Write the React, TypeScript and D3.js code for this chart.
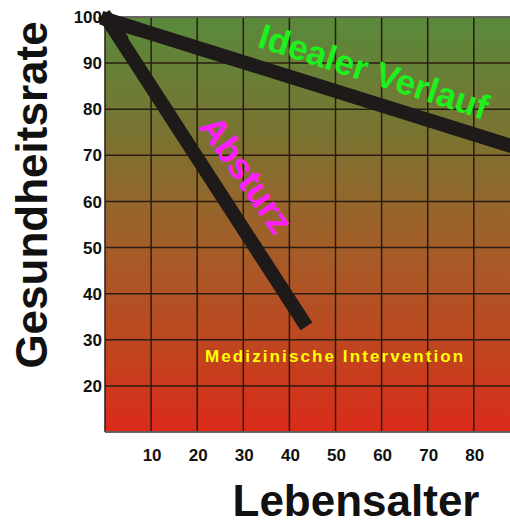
import React from "react";
import * as d3 from "d3";

const xTicks = [10, 20, 30, 40, 50, 60, 70, 80];
const yTicks = [20, 30, 40, 50, 60, 70, 80, 90, 100];
const xGrid = [0, 10, 20, 30, 40, 50, 60, 70, 80];
const yGrid = [10, 20, 30, 40, 50, 60, 70, 80, 90, 100];
const idealAge = [0.6, 92];
const idealHealth = [99.4, 70.8];
const crashAge = [0.6, 43.7];
const crashHealth = [99.4, 32.9];

const W = 510;
const H = 525;
const FONT = "'Liberation Sans', Arial, sans-serif";

export default function App() {
  const x = d3.scaleLinear().domain([0, 87.85]).range([105, 510]);
  const y = d3.scaleLinear().domain([10, 100]).range([432, 17]);
  const line = d3
    .line<[number, number]>()
    .x((d) => x(d[0]))
    .y((d) => y(d[1]));
  const ideal = idealAge.map((a, i) => [a, idealHealth[i]] as [number, number]);
  const crash = crashAge.map((a, i) => [a, crashHealth[i]] as [number, number]);
  const [x0, x1] = x.range();
  const [yb, yt] = y.range();

  const idealAngle =
    (Math.atan2(y(idealHealth[1]) - y(idealHealth[0]), x(idealAge[1]) - x(idealAge[0])) * 180) /
    Math.PI;
  const crashAngle =
    (Math.atan2(y(crashHealth[1]) - y(crashHealth[0]), x(crashAge[1]) - x(crashAge[0])) * 180) /
    Math.PI;

  return (
    <svg
      width={W}
      height={H}
      style={{ position: "absolute", left: 0, top: 0, background: "#fff" }}
      fontFamily={FONT}
    >
      <defs>
        <linearGradient id="bg" x1="0" y1="0" x2="0" y2="1">
          <stop offset="0%" stopColor="#598a3c" />
          <stop offset="25%" stopColor="#757632" />
          <stop offset="55%" stopColor="#a35e29" />
          <stop offset="80%" stopColor="#c0451f" />
          <stop offset="100%" stopColor="#dc2a1a" />
        </linearGradient>
        <clipPath id="plot">
          <rect x={x0} y={yt} width={x1 - x0} height={yb - yt} />
        </clipPath>
      </defs>
      <rect x={x0} y={yt} width={x1 - x0} height={yb - yt} fill="url(#bg)" />
      {xGrid.map((v) => (
        <line key={"gx" + v} x1={x(v)} x2={x(v)} y1={yt} y2={yb} stroke="#2a1c12" strokeWidth={1.5} />
      ))}
      {yGrid.map((v) => (
        <line key={"gy" + v} x1={x0} x2={x1} y1={y(v)} y2={y(v)} stroke="#2a1c12" strokeWidth={1.5} />
      ))}
      <line x1={x0} x2={x1} y1={yt} y2={yt} stroke="#707070" strokeWidth={1.5} />
      <line x1={x0} x2={x1} y1={yb} y2={yb} stroke="#707070" strokeWidth={1.5} />
      <path d={line(ideal) || ""} stroke="#1d1a19" strokeWidth={14} fill="none" clipPath="url(#plot)" />
      <path d={line(crash) || ""} stroke="#1d1a19" strokeWidth={14} fill="none" strokeLinecap="butt" />
      <path
        d={line([ideal[0], [6, 97.7]]) || ""}
        stroke="#1d1a19"
        strokeWidth={14}
        fill="none"
        strokeLinecap="square"
      />
      <path
        d={line([crash[0], [3, 96]]) || ""}
        stroke="#1d1a19"
        strokeWidth={14}
        fill="none"
        strokeLinecap="square"
      />

      <text
        transform={`translate(${x(32.8)},${y(93.6)}) rotate(${idealAngle + 0.5})`}
        fill="#1ef01e"
        fontSize={35}
        fontWeight="bold"
      >
        Idealer Verlauf
      </text>
      <text
        transform={`translate(${x(20.2)},${y(76.2)}) rotate(${crashAngle - 2})`}
        fill="#ff1eff"
        fontSize={36}
        fontWeight="bold"
      >
        Absturz
      </text>
      <text
        x={x(21.7)}
        y={y(25.1)}
        fill="#ffff00"
        fontSize={17}
        fontWeight="bold"
        letterSpacing={2.1}
      >
        Medizinische Intervention
      </text>

      {yTicks.map((v) => (
        <text
          key={"yt" + v}
          x={x0 - 3}
          y={y(v)}
          dy="0.36em"
          textAnchor="end"
          fontSize={17}
          fontWeight="bold"
          fill="#111"
        >
          {v}
        </text>
      ))}
      {xTicks.map((v) => (
        <text
          key={"xt" + v}
          x={x(v) + 1}
          y={455}
          dy="0.36em"
          textAnchor="middle"
          fontSize={17}
          fontWeight="bold"
          fill="#111"
        >
          {v}
        </text>
      ))}
      <text
        transform={`translate(47,195) rotate(-90)`}
        textAnchor="middle"
        fontSize={44}
        fontWeight="bold"
        fill="#111"
      >
        Gesundheitsrate
      </text>
      <text x={356} y={516} textAnchor="middle" fontSize={44} fontWeight="bold" fill="#111">
        Lebensalter
      </text>
    </svg>
  );
}
